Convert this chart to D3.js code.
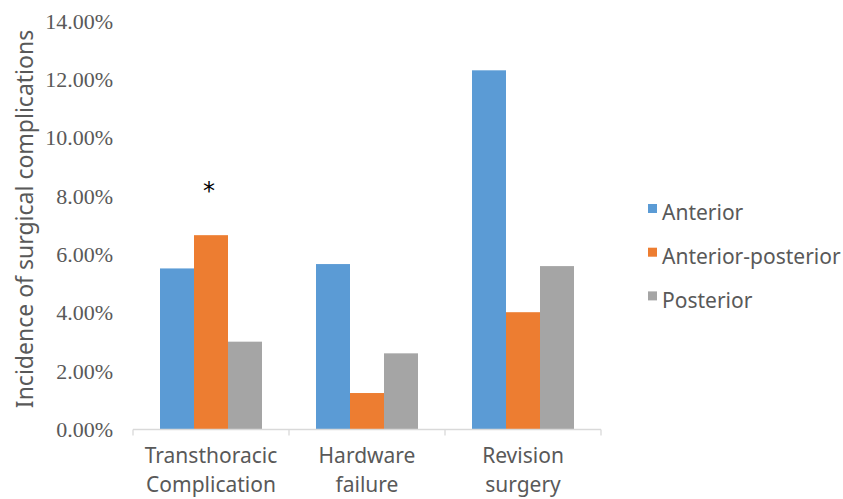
<!DOCTYPE html>
<html><head><meta charset="utf-8">
<script src="https://cdn.jsdelivr.net/npm/d3@7"></script>
<style>body{margin:0;background:#fff}svg{display:block}</style>
</head><body>
<script>
const categories = [["Transthoracic","Complication"],["Hardware","failure"],["Revision","surgery"]];
const series = ["Anterior","Anterior-posterior","Posterior"];
const colors = ["#5B9BD5","#ED7D31","#A5A5A5"];
const anterior = [0.0552, 0.0567, 0.1231];
const anteriorPosterior = [0.0666, 0.0125, 0.0402];
const posterior = [0.0301, 0.0261, 0.0560];
const yTicks = [0,0.02,0.04,0.06,0.08,0.10,0.12,0.14];
const yTitle = "Incidence of surgical complications";
const marker = "*";

const values = [anterior, anteriorPosterior, posterior];
const W = 843, H = 499;
const SANS = "Noto Sans, Open Sans, sans-serif";
const svg = d3.select("body").append("svg").attr("width", W).attr("height", H);

const x0 = d3.scaleBand().domain(d3.range(categories.length)).range([133, 601]).padding(0);
const gap = 54;
const x1 = d3.scaleBand().domain(d3.range(series.length)).range([gap/2, x0.bandwidth()-gap/2]).padding(0);
const y = d3.scaleLinear().domain([0, 0.14]).range([429.5, 21]);

// y tick labels
svg.append("g").selectAll("text").data(yTicks).join("text")
  .attr("x", 113).attr("y", d => y(d)).attr("dy", "0.35em")
  .attr("text-anchor", "end")
  .attr("font-family", "Liberation Serif, Times New Roman, serif")
  .attr("font-size", 22).attr("fill", "#595959")
  .text(d => d3.format(".2%")(d));

// y title
svg.append("text")
  .attr("transform", `translate(33,219) rotate(-90)`)
  .attr("text-anchor", "middle")
  .attr("font-family", SANS)
  .attr("font-size", 23).attr("fill", "#595959")
  .text(yTitle);

// bars
const g = svg.append("g");
categories.forEach((c, i) => {
  series.forEach((s, j) => {
    g.append("rect")
      .attr("x", x0(i) + x1(j)).attr("width", x1.bandwidth())
      .attr("y", y(values[j][i])).attr("height", y(0) - y(values[j][i]))
      .attr("fill", colors[j]);
  });
});

// x axis
const axis = svg.append("g").attr("stroke", "#D9D9D9").attr("stroke-width", 1.3);
axis.append("line").attr("x1", 133).attr("x2", 601).attr("y1", y(0)).attr("y2", y(0));
d3.range(categories.length + 1).forEach(i => {
  const xx = i < categories.length ? x0(i) : x0.range()[1];
  axis.append("line").attr("x1", xx).attr("x2", xx).attr("y1", y(0)).attr("y2", y(0) + 6);
});

// x labels
categories.forEach((c, i) => {
  const t = svg.append("text")
    .attr("text-anchor", "middle")
    .attr("font-family", SANS)
    .attr("font-size", 21).attr("fill", "#595959");
  c.forEach((line, k) => {
    t.append("tspan").attr("x", x0(i) + x0.bandwidth()/2).attr("y", 463 + k*29).text(line);
  });
});

// asterisk
svg.append("text")
  .attr("x", x0(0) + x1(1) + x1.bandwidth()/2 - 2).attr("y", 199)
  .attr("text-anchor", "middle")
  .attr("font-family", "DejaVu Sans, sans-serif")
  .attr("font-size", 24).attr("fill", "#000")
  .text(marker);

// legend
const lg = svg.append("g");
series.forEach((s, j) => {
  const cy = 213 + j*43.7;
  lg.append("rect").attr("x", 648).attr("y", cy - 9).attr("width", 9).attr("height", 9).attr("fill", colors[j]);
  lg.append("text").attr("x", 662).attr("y", cy).attr("dy", "0.35em")
    .attr("font-family", SANS)
    .attr("font-size", 21).attr("fill", "#595959")
    .text(s);
});
</script>
</body></html>
